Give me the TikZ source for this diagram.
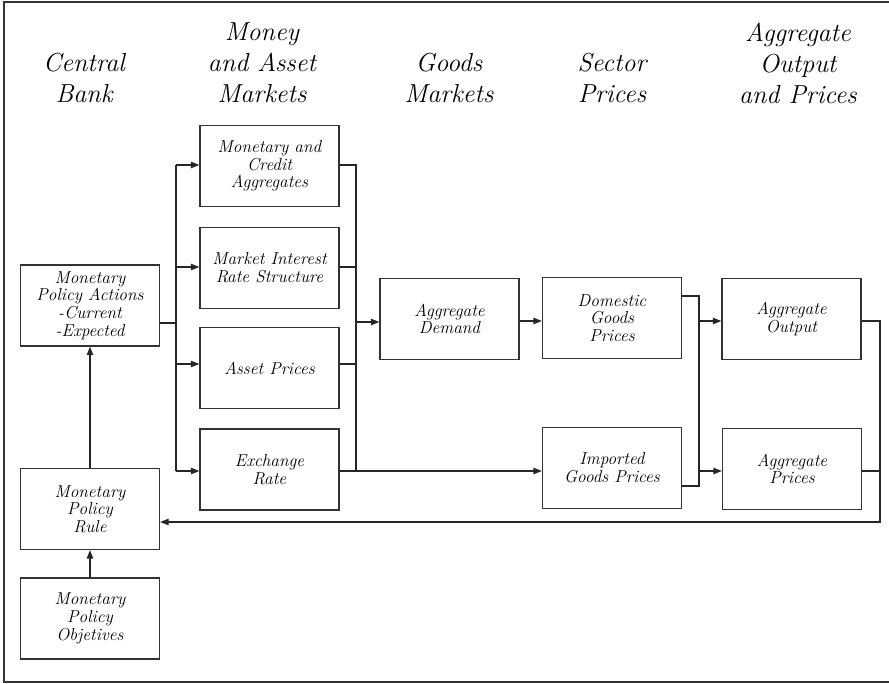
\documentclass[tikz,border=0pt]{standalone}
\usepackage{tikz}
\usetikzlibrary{arrows.meta}

\begin{document}
\begin{tikzpicture}[x=0.025cm, y=-0.025cm]
\useasboundingbox (0,0) rectangle (889,684);
\draw[line width=0.9pt, black!80] (889,2) -- (4,2) -- (4,682) -- (889,682);

%\tikzstyle{box}=[draw,minimum width=3.5cm]
\begin{scope}[every node/.style={align=center, font=\fontsize{18.5}{22}\selectfont\itshape}]
    \node (hcb) at (84,78) {Central\\Bank};
    \node (hmm) at (262,63) {Money\\and Asset\\Markets};
    \node (hgm) at (449,78) {Goods\\Markets};
    \node (hsp) at (612,78) {Sector\\Prices};
    \node (hag) at (798,63) {Aggregate\\Output\\and Prices};
\end{scope}

\begin{scope}[every node/.style={draw=black!80, line width=0.9pt, inner sep=0pt,
              minimum width=3.475cm, minimum height=2.025cm, align=center,
              font=\fontsize{12.3}{12.6}\selectfont\itshape}]
    \node (Act) at (90,305.5) {Monetary\\Policy Actions\\-Current\\-Expected};
    \node (Rule) at (90,509) {Monetary\\Policy\\Rule};
    \node (Obj) at (90,618.5) {Monetary\\Policy\\Objetives};

    \node (MCA) at (269.5,166) {Monetary and\\Credit\\Aggregates};
    \node (MIR) at (269.5,268) {Market Interest\\Rate Structure};
    \node (AsP) at (269.5,368) {Asset Prices};
    \node (ER) at (269.5,469.5) {Exchange\\Rate};

    \node (AD) at (449.5,319) {Aggregate\\Demand};
    \node (DGP) at (612,318) {Domestic\\Goods\\Prices};
    \node (IGP) at (612,468) {Imported\\Goods Prices};
    \node (AO) at (791.5,319) {Aggregate\\Output};
    \node (APr) at (792,469) {Aggregate\\Prices};
\end{scope}

% bus points
\coordinate (L0) at (176,323);
\coordinate (L1) at (176,165);
\coordinate (L2) at (176,267);
\coordinate (L3) at (176,364);
\coordinate (L4) at (176,471);
\coordinate (R0) at (356,322);
\coordinate (R1) at (356,165);
\coordinate (R2) at (356,267);
\coordinate (R3) at (356,364);
\coordinate (R4) at (356,471);
\coordinate (D0) at (699,296);
\coordinate (D1) at (699,321);
\coordinate (D2) at (699,471);
\coordinate (D3) at (699,486);
\coordinate (F0) at (880,321);
\coordinate (F1) at (880,471);
\coordinate (F2) at (880,522);

\begin{scope}[>={Triangle[length=2.1mm, width=1.6mm]}, line width=0.8pt, black!85]
    \path [->] (Obj) edge (Rule);
    \path [->] (Rule) edge (Act);

    \draw (Act.east |- L0) -- (L0);
    \draw (L1) -- (L4);
    \path [->] (L1) edge (MCA.west |- L1);
    \path [->] (L2) edge (MIR.west |- L2);
    \path [->] (L3) edge (AsP.west |- L3);
    \path [->] (L4) edge (ER.west |- L4);

    \draw (MCA.east |- R1) -- (R1) -- (R4);
    \draw (MIR.east |- R2) -- (R2);
    \draw (AsP.east |- R3) -- (R3);
    \path [->] (R0) edge (AD.west |- R0);
    \path [->] (ER.east |- R4) edge (IGP.west |- R4);

    \path [->] (AD.east |- D1) edge (DGP.west |- D1);
    \draw (DGP.east |- D0) -- (D0) -- (D3) -- (IGP.east |- D3);
    \path [->] (D1) edge (AO.west |- D1);
    \path [->] (D2) edge (APr.west |- D2);

    \draw [->] (AO.east |- F0) -- (F0) -- (F2) -- (Rule.east |- F2);
    \draw (APr.east |- F1) -- (F1);
\end{scope}
\end{tikzpicture}
\end{document}
